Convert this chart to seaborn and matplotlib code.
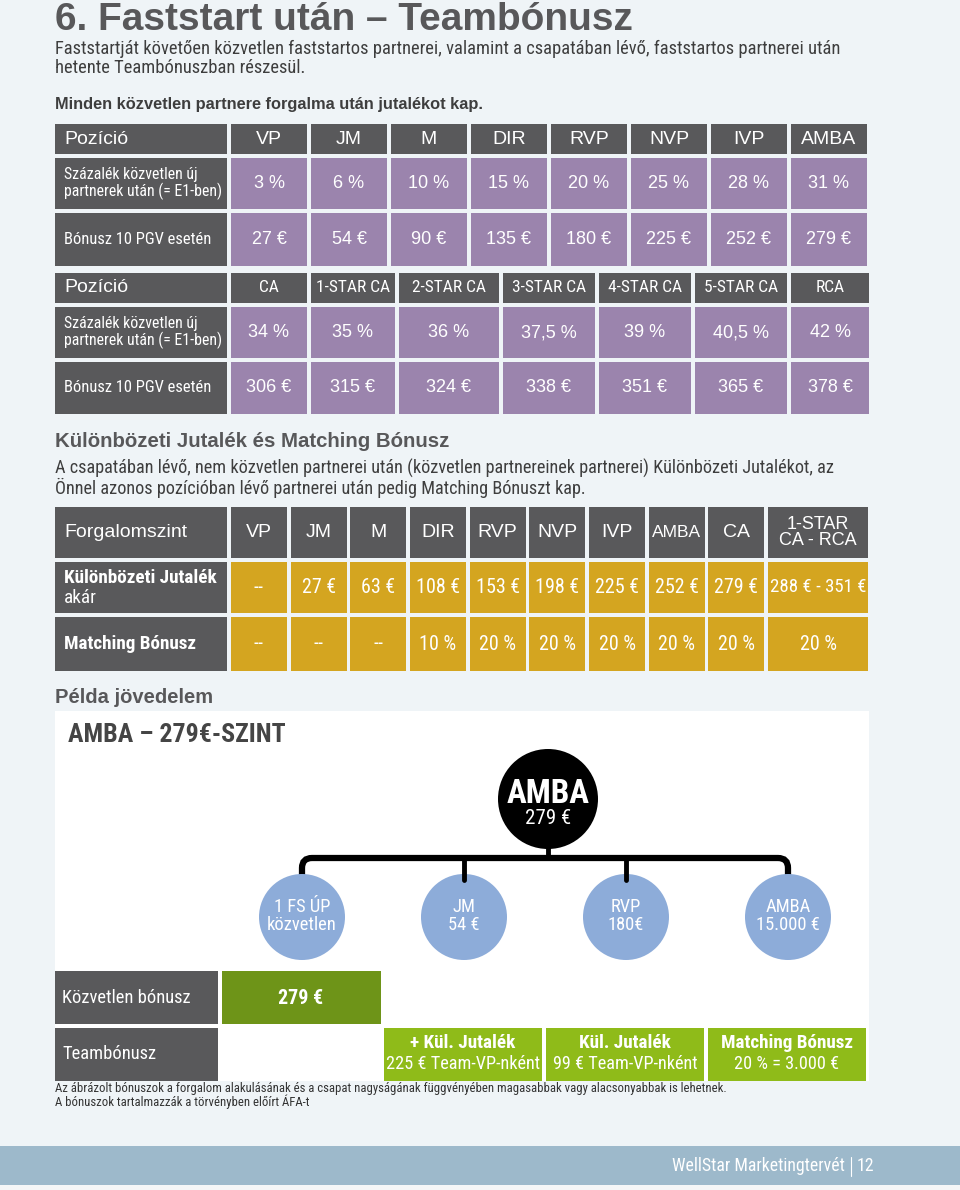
import matplotlib
matplotlib.use("Agg")
import matplotlib.pyplot as plt
from matplotlib.patches import Rectangle, Ellipse, PathPatch
from matplotlib.path import Path
from matplotlib import font_manager
import seaborn as sns

sns.set_theme(style="white")
names = {f.name for f in font_manager.fontManager.ttflist}
REG = ['Liberation Sans', 'DejaVu Sans']
narrow_choice = None
for cand in ['Liberation Sans Narrow', 'Roboto Condensed', 'Roboto']:
    if cand in names:
        narrow_choice = cand
        break
NAR = [narrow_choice, 'DejaVu Sans'] if narrow_choice else ['DejaVu Sans']
NS = {'Liberation Sans Narrow': 1.08, 'Roboto Condensed': 1.08, 'Roboto': 1.0}.get(narrow_choice, 0.88)
plt.rcParams['font.family'] = REG

# ---------------- data ----------------
title = "6. Faststart után – Teambónusz"
intro_lines = ["Faststartját követően közvetlen faststartos partnerei, valamint a csapatában lévő, faststartos partnerei után",
               "hetente Teambónuszban részesül."]
intro_bold = "Minden közvetlen partnere forgalma után jutalékot kap."

row_labels_12 = ["Pozíció", "Százalék közvetlen új\npartnerek után (= E1-ben)", "Bónusz 10 PGV esetén"]
positions_1 = ["VP", "JM", "M", "DIR", "RVP", "NVP", "IVP", "AMBA"]
percent_1 = ["3 %", "6 %", "10 %", "15 %", "20 %", "25 %", "28 %", "31 %"]
bonus_1 = ["27 €", "54 €", "90 €", "135 €", "180 €", "225 €", "252 €", "279 €"]

positions_2 = ["CA", "1-STAR CA", "2-STAR CA", "3-STAR CA", "4-STAR CA", "5-STAR CA", "RCA"]
percent_2 = ["34 %", "35 %", "36 %", "37,5 %", "39 %", "40,5 %", "42 %"]
bonus_2 = ["306 €", "315 €", "324 €", "338 €", "351 €", "365 €", "378 €"]

section2_title = "Különbözeti Jutalék és Matching Bónusz"
section2_lines = ["A csapatában lévő, nem közvetlen partnerei után (közvetlen partnereinek partnerei) Különbözeti Jutalékot, az",
                  "Önnel azonos pozícióban lévő partnerei után pedig Matching Bónuszt kap."]

levels_3 = ["VP", "JM", "M", "DIR", "RVP", "NVP", "IVP", "AMBA", "CA", "1-STAR\nCA - RCA"]
kul_3 = ["--", "27 €", "63 €", "108 €", "153 €", "198 €", "225 €", "252 €", "279 €", "288 € - 351 €"]
match_3 = ["--", "--", "--", "10 %", "20 %", "20 %", "20 %", "20 %", "20 %", "20 %"]

example_title = "Példa jövedelem"
panel_title = "AMBA – 279€-SZINT"
root_label = ("AMBA", "279 €")
child_labels = ["1 FS ÚP\nközvetlen", "JM\n54 €", "RVP\n180€", "AMBA\n15.000 €"]

direct_label = "Közvetlen bónusz"
direct_value = "279 €"
team_label = "Teambónusz"
team_cells = [("+ Kül. Jutalék", "225 € Team-VP-nként"),
              ("Kül. Jutalék", "99 € Team-VP-nként"),
              ("Matching Bónusz", "20 % = 3.000 €")]
footnotes = ["Az ábrázolt bónuszok a forgalom alakulásának és a csapat nagyságának függvényében magasabbak vagy alacsonyabbak is lehetnek.",
             "A bónuszok tartalmazzák a törvényben előírt ÁFA-t"]
footer_text = "WellStar Marketingtervét"
page_no = "12"

# ---------------- style ----------------
BG = "#eff4f7"
DARK = "#59595b"
PURPLE = "#9b84ad"
GOLD = "#d4a520"
GREEN_D = "#6e9418"
GREEN_L = "#8fbb19"
BLUE = "#8dacd9"
TXT = "#3e3e3e"
HEAD = "#58585a"
FOOT = "#9db9cb"

fig = plt.figure(figsize=(9.6, 11.9), dpi=100)
fig.patch.set_facecolor(BG)
ax = fig.add_axes([0, 0, 1, 1])
ax.set_xlim(0, 960)
ax.set_ylim(1190, 0)
ax.axis("off")
ax.set_facecolor(BG)


def cell(x, y, w, h, color):
    ax.add_patch(Rectangle((x, y), w, h, facecolor=color, edgecolor="none"))


def txt(x, y, s, size, color="white", ha="center", va="center", weight="normal", fam=REG, ls=1.0):
    if fam is NAR:
        size = size * NS
    ax.text(x, y, s, fontsize=size, color=color, ha=ha, va=va, fontweight=weight,
            family=fam, linespacing=ls)


# ---------------- header text ----------------
txt(55, 30, title, 28, color=HEAD, ha="left", va="baseline", weight="bold")
for i, line in enumerate(intro_lines):
    txt(55, 54 + i * 19, line, 12.3, color=TXT, ha="left", va="baseline", fam=NAR)
txt(55, 109, intro_bold, 11.8, color=TXT, ha="left", va="baseline", weight="bold")

# ---------------- purple tables ----------------
LX, LW = 55, 172
GAP = 4


def purple_table(top, heights, col_widths, heads, row1, row2, head_fam, head_size):
    ys = [top]
    for h in heights[:-1]:
        ys.append(ys[-1] + h + GAP)
    for yy, hh in zip(ys, heights):
        cell(LX, yy, LW, hh, DARK)
    txt(LX + 9, ys[0] + heights[0] / 2, row_labels_12[0], 14, ha="left")
    txt(LX + 9, ys[1] + heights[1] / 2, row_labels_12[1], 10.6, ha="left", fam=NAR, ls=1.05)
    txt(LX + 9, ys[2] + heights[2] / 2, row_labels_12[2], 11.0, ha="left", fam=NAR)
    x = LX + LW + GAP
    for j, w in enumerate(col_widths):
        cell(x, ys[0], w, heights[0], DARK)
        cell(x, ys[1], w, heights[1], PURPLE)
        cell(x, ys[2], w, heights[2], PURPLE)
        cx = x + w / 2
        txt(cx, ys[0] + heights[0] / 2, heads[j], head_size, fam=head_fam)
        txt(cx, ys[1] + heights[1] / 2, row1[j], 13)
        txt(cx, ys[2] + heights[2] / 2, row2[j], 13)
        x += w + GAP


purple_table(124, [30, 51, 53], [76] * len(positions_1), positions_1, percent_1, bonus_1, REG, 14)
purple_table(273, [30, 51, 52], [76, 84, 100, 92, 92, 92, 78], positions_2, percent_2, bonus_2, NAR, 11.6)

# ---------------- section 2 ----------------
txt(55, 447, section2_title, 14.7, color=HEAD, ha="left", va="baseline", weight="bold")
for i, line in enumerate(section2_lines):
    txt(55, 474 + i * 20, line, 12.2, color=TXT, ha="left", va="baseline", fam=NAR)

# ---------------- gold table ----------------
g_top = 507
g_heights = [51, 51, 54]
g_gap = 3.67
g_widths = [56] * 9 + [100]
gys = [g_top, g_top + g_heights[0] + GAP, g_top + g_heights[0] + g_heights[1] + 2 * GAP]
for yy, hh in zip(gys, g_heights):
    cell(LX, yy, LW, hh, DARK)
txt(LX + 9, gys[0] + g_heights[0] / 2, "Forgalomszint", 14, ha="left")
txt(LX + 9, gys[1] + 16, "Különbözeti Jutalék", 12.8, ha="left", weight="bold", fam=NAR)
txt(LX + 9, gys[1] + 36, "akár", 12.8, ha="left", fam=NAR)
txt(LX + 9, gys[2] + g_heights[2] / 2, "Matching Bónusz", 12.8, ha="left", weight="bold", fam=NAR)
x = LX + LW + GAP
for j, w in enumerate(g_widths):
    cell(x, gys[0], w, g_heights[0], DARK)
    cell(x, gys[1], w, g_heights[1], GOLD)
    cell(x, gys[2], w, g_heights[2], GOLD)
    cx = x + w / 2
    hs = 14 if "\n" not in levels_3[j] else 13
    if levels_3[j] == "AMBA":
        hs = 12.5
    txt(cx, gys[0] + g_heights[0] / 2, levels_3[j], hs, ls=0.95)
    vs = 12.6 if len(kul_3[j]) > 6 else 13.3
    txt(cx, gys[1] + g_heights[1] / 2, kul_3[j], vs, fam=NAR)
    txt(cx, gys[2] + g_heights[2] / 2, match_3[j], 13.3, fam=NAR)
    x += w + g_gap

# ---------------- example panel ----------------
txt(55, 703, example_title, 14.5, color=HEAD, ha="left", va="baseline", weight="bold")
cell(55, 711, 814, 370, "white")
txt(68, 742, panel_title, 17.3, color="#454545", ha="left", va="baseline", weight="bold", fam=NAR)

root_x, root_y = 548, 799
child_x0, child_dx, child_y = 302, 162, 917
bar_y = 858
xs = [child_x0 + i * child_dx for i in range(len(child_labels))]
r = 10
verts = [(xs[0], 880), (xs[0], bar_y + r), (xs[0], bar_y), (xs[0] + r, bar_y),
         (xs[-1] - r, bar_y), (xs[-1], bar_y), (xs[-1], bar_y + r), (xs[-1], 880)]
codes = [Path.MOVETO, Path.LINETO, Path.CURVE3, Path.CURVE3, Path.LINETO, Path.CURVE3, Path.CURVE3, Path.LINETO]
ax.add_patch(PathPatch(Path(verts, codes), facecolor="none", edgecolor="black", lw=4.5, capstyle="butt"))
ax.plot([root_x, root_x], [840, bar_y], color="black", lw=3.5)
for cx in xs[1:-1]:
    ax.plot([cx, cx], [bar_y, 880], color="black", lw=3.5)

ax.add_patch(Ellipse((root_x, root_y), 100, 100, facecolor="black", edgecolor="none"))
txt(root_x, 794, root_label[0], 22, weight="bold", fam=NAR)
txt(root_x, 818, root_label[1], 14, fam=NAR)

for cx, lab in zip(xs, child_labels):
    ax.add_patch(Ellipse((cx, child_y), 86, 86, facecolor=BLUE, edgecolor="none"))
    txt(cx, child_y - 1, lab, 12.3, fam=NAR, ls=0.95)

# bonus rows
cell(55, 971, 163, 53, DARK)
txt(62, 998, direct_label, 12.3, ha="left", fam=NAR)
cell(222, 971, 159, 53, GREEN_D)
txt(301, 998, direct_value, 13.3, weight="bold", fam=NAR)

cell(55, 1028, 163, 53, DARK)
txt(62, 1054, team_label, 12.3, ha="left", fam=NAR)
tx = 384
for (a, b) in team_cells:
    cell(tx, 1028, 158, 53, GREEN_L)
    txt(tx + 79, 1043, a, 12.8, weight="bold", fam=NAR)
    txt(tx + 79, 1064, b, 12.2, fam=NAR)
    tx += 162

for i, line in enumerate(footnotes):
    txt(55, 1092 + i * 14, line, 8.5, color="#333333", ha="left", va="baseline", fam=NAR)

# footer
cell(0, 1146, 960, 39, FOOT)
cell(0, 1185, 960, 5, "#f4f6f7")
txt(845, 1166, footer_text, 11.8, ha="right", fam=NAR)
ax.plot([851, 851], [1157, 1176], color="white", lw=0.8)
txt(857, 1166, page_no, 11.8, ha="left", fam=NAR)

fig.savefig("out.png", dpi=100, facecolor=BG)
